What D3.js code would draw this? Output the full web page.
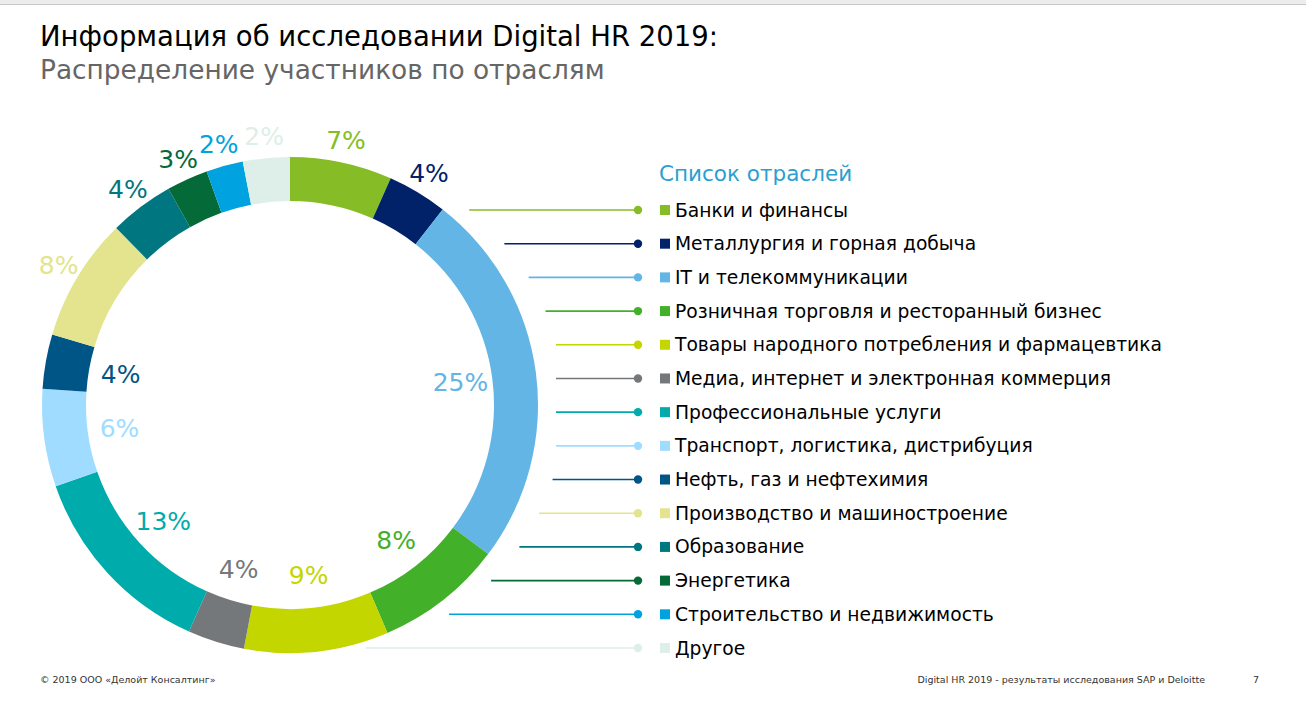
<!DOCTYPE html>
<html>
<head>
<meta charset="utf-8">
<script src="https://cdn.jsdelivr.net/npm/d3@7"></script>
<style>
  html, body { margin: 0; padding: 0; background: #fff; }
  svg { display: block; font-family: "DejaVu Sans", Verdana, sans-serif; }
</style>
</head>
<body>
<svg id="chart" width="1306" height="711"></svg>
<script>
// ---- data ----
const categories = [
  "Банки и финансы",
  "Металлургия и горная добыча",
  "IT и телекоммуникации",
  "Розничная торговля и ресторанный бизнес",
  "Товары народного потребления и фармацевтика",
  "Медиа, интернет и электронная коммерция",
  "Профессиональные услуги",
  "Транспорт, логистика, дистрибуция",
  "Нефть, газ и нефтехимия",
  "Производство и машиностроение",
  "Образование",
  "Энергетика",
  "Строительство и недвижимость",
  "Другое"
];
const shares = [6.65, 3.9, 24.7, 8.3, 9.4, 3.7, 13.0, 6.35, 3.55, 8.05, 4.2, 2.7, 2.4, 3.05];
// rounded labels printed on the chart
const shareLabels = ["7%", "4%", "25%", "8%", "9%", "4%", "13%", "6%", "4%", "8%", "4%", "3%", "2%", "2%"];
const colors = ["#86BC25", "#012169", "#62B5E5", "#43B02A", "#C4D600", "#75787B", "#00ABAB",
                "#A0DCFF", "#005587", "#E3E48D", "#007680", "#046A38", "#00A3E0", "#DDEFE8"];
const titleText = "Информация об исследовании Digital HR 2019:";
const subtitleText = "Распределение участников по отраслям";
const legendTitle = "Список отраслей";
const footerLeft = "© 2019 ООО «Делойт Консалтинг»";
const footerRight = "Digital HR 2019 - результаты исследования SAP и Deloitte";
const pageNum = "7";

// ---- drawing ----
const svg = d3.select("#chart");

// top strip
svg.append("rect").attr("x", 0).attr("y", 0).attr("width", 1306).attr("height", 4).attr("fill", "#ececec");
svg.append("line").attr("x1", 0).attr("x2", 1306).attr("y1", 4.5).attr("y2", 4.5).attr("stroke", "#c8c8c8").attr("stroke-width", 1);

svg.append("text").attr("x", 40).attr("y", 46).attr("font-size", 27.5).attr("fill", "#000").text(titleText);
svg.append("text").attr("x", 40).attr("y", 79).attr("font-size", 26.4).attr("fill", "#666").text(subtitleText);

const cx = 290, cy = 405, R = 248, r = 204;
const g = svg.append("g").attr("transform", `translate(${cx},${cy})`);
const pie = d3.pie().sort(null).value(d => d)(shares);
const arc = d3.arc().innerRadius(r).outerRadius(R);

g.selectAll("path.slice").data(pie).join("path")
  .attr("class", "slice")
  .attr("d", arc)
  .attr("fill", (d, i) => colors[i]);

const outArc = d3.arc().innerRadius(270).outerRadius(270);
const inArc = d3.arc().innerRadius(172).outerRadius(172);
g.selectAll("text.pct").data(pie).join("text")
  .attr("class", "pct")
  .each(function (d, i) {
    const mid = (d.startAngle + d.endAngle) / 2;
    const outside = Math.cos(mid) > 0.3;
    const [x, y] = (outside ? outArc : inArc).centroid(d);
    d3.select(this).attr("x", x).attr("y", y);
  })
  .attr("text-anchor", "middle")
  .attr("dominant-baseline", "central")
  .attr("font-size", 25)
  .attr("fill", (d, i) => colors[i])
  .text((d, i) => shareLabels[i]);

// legend
const y = d3.scalePoint().domain(categories).range([210, 648]);
svg.append("text").attr("x", 659).attr("y", 181).attr("font-size", 21.5).attr("fill", "#2A9FD0").text(legendTitle);

const rows = svg.append("g").selectAll("g").data(categories).join("g");
rows.append("line")
  .attr("x1", (d, i) => {
    const dy = y(d) - cy;
    const edge = cx + Math.sqrt(Math.max(0, R * R - dy * dy));
    return Math.min(556, edge + 26);
  })
  .attr("x2", 638)
  .attr("y1", d => y(d)).attr("y2", d => y(d))
  .attr("stroke", (d, i) => colors[i]).attr("stroke-width", 1.6);
rows.append("circle").attr("cx", 638).attr("cy", d => y(d)).attr("r", 4.2).attr("fill", (d, i) => colors[i]);
rows.append("rect").attr("x", 660).attr("y", d => y(d) - 5).attr("width", 10).attr("height", 10).attr("fill", (d, i) => colors[i]);
rows.append("text").attr("x", 675).attr("y", d => y(d)).attr("dominant-baseline", "central")
  .attr("font-size", 18.7).attr("fill", "#000").text(d => d);

// footer
svg.append("text").attr("x", 40).attr("y", 683).attr("font-size", 9.5).attr("fill", "#333").text(footerLeft);
svg.append("text").attr("x", 1205).attr("y", 683).attr("text-anchor", "end").attr("font-size", 9.5).attr("fill", "#333").text(footerRight);
svg.append("text").attr("x", 1256).attr("y", 683).attr("text-anchor", "middle").attr("font-size", 9.5).attr("fill", "#333").text(pageNum);
</script>
</body>
</html>
